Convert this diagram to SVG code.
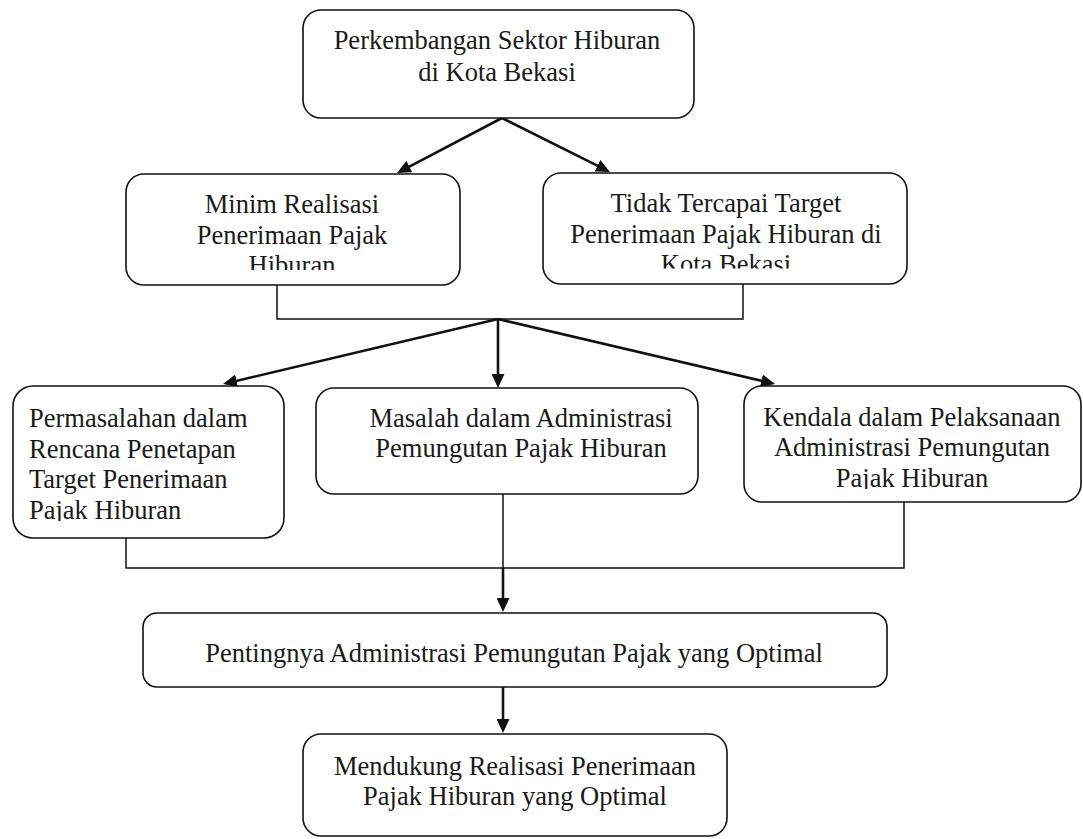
<svg xmlns="http://www.w3.org/2000/svg" width="1083" height="839" viewBox="0 0 1083 839">
<style>
.box{fill:#fff;stroke:#111;stroke-width:1.6}
.t{font-family:"Liberation Serif","Times New Roman",serif;font-size:26.5px;fill:#1a1a1a}
.c{text-anchor:middle}
.arr{fill:none;stroke:#111;stroke-width:2.6}
.br{fill:none;stroke:#111;stroke-width:1.5}
</style>
<defs>
<marker id="ah" markerUnits="userSpaceOnUse" markerWidth="15" markerHeight="13" refX="6" refY="6.5" orient="auto">
<path d="M0,0 L14,6.5 L0,13 z" fill="#111"/>
</marker>
<clipPath id="c2"><rect x="130" y="180" width="326" height="90"/></clipPath>
<clipPath id="c3"><rect x="547" y="180" width="356" height="88.5"/></clipPath>
<clipPath id="c4"><rect x="15" y="390" width="265" height="131"/></clipPath>
<clipPath id="c6"><rect x="748" y="390" width="330" height="99"/></clipPath>
</defs>
<rect width="1083" height="839" fill="#fff"/>
<g id="connectors">
<path class="arr" d="M502,118 L404.1,169.3" marker-end="url(#ah)"/>
<path class="arr" d="M502,118 L602.8,168.4" marker-end="url(#ah)"/>
<path class="br" d="M277,285 V319 H743 V284"/>
<path class="arr" d="M498,319 L230.8,382.2" marker-end="url(#ah)"/>
<path class="arr" d="M498,319 V380" marker-end="url(#ah)"/>
<path class="arr" d="M498,319 L767.2,382.2" marker-end="url(#ah)"/>
<path class="br" d="M126,538 V568 H904 V502"/>
<path class="br" d="M503,494 V568"/>
<path class="arr" d="M503,568 V604" marker-end="url(#ah)"/>
<path class="arr" d="M503,687 V725" marker-end="url(#ah)"/>
</g>
<g id="n1">
<rect class="box" x="303" y="10" width="391" height="108" rx="18"/>
<text class="t c" x="497" y="49">Perkembangan Sektor Hiburan</text>
<text class="t c" x="497" y="81">di Kota Bekasi</text>
</g>
<g id="n2">
<rect class="box" x="126" y="174" width="334" height="111" rx="18"/>
<g clip-path="url(#c2)">
<text class="t c" x="292" y="213">Minim Realisasi</text>
<text class="t c" x="292" y="243.5">Penerimaan Pajak</text>
<text class="t c" x="292" y="274">Hiburan</text>
</g>
</g>
<g id="n3">
<rect class="box" x="543" y="173" width="364" height="111" rx="18"/>
<g clip-path="url(#c3)">
<text class="t c" x="726" y="212">Tidak Tercapai Target</text>
<text class="t c" x="726" y="242.5">Penerimaan Pajak Hiburan di</text>
<text class="t c" x="726" y="273">Kota Bekasi</text>
</g>
</g>
<g id="n4">
<rect class="box" x="13" y="386" width="271" height="152" rx="20"/>
<g clip-path="url(#c4)">
<text class="t" x="29" y="427">Permasalahan dalam</text>
<text class="t" x="29" y="457.5">Rencana Penetapan</text>
<text class="t" x="29" y="488">Target Penerimaan</text>
<text class="t" x="29" y="518.5">Pajak Hiburan</text>
</g>
</g>
<g id="n5">
<rect class="box" x="316" y="388" width="382" height="106" rx="18"/>
<text class="t c" x="521" y="427">Masalah dalam Administrasi</text>
<text class="t c" x="521" y="457">Pemungutan Pajak Hiburan</text>
</g>
<g id="n6">
<rect class="box" x="744" y="386" width="337" height="116" rx="18"/>
<g clip-path="url(#c6)">
<text class="t c" x="912" y="425.5">Kendala dalam Pelaksanaan</text>
<text class="t c" x="912" y="456">Administrasi Pemungutan</text>
<text class="t c" x="912" y="486.5">Pajak Hiburan</text>
</g>
</g>
<g id="n7">
<rect class="box" x="143" y="613" width="744" height="74" rx="14"/>
<text class="t c" x="514" y="662">Pentingnya Administrasi Pemungutan Pajak yang Optimal</text>
</g>
<g id="n8">
<rect class="box" x="303" y="734" width="424" height="102" rx="18"/>
<text class="t c" x="515" y="775">Mendukung Realisasi Penerimaan</text>
<text class="t c" x="515" y="805">Pajak Hiburan yang Optimal</text>
</g>
</svg>
